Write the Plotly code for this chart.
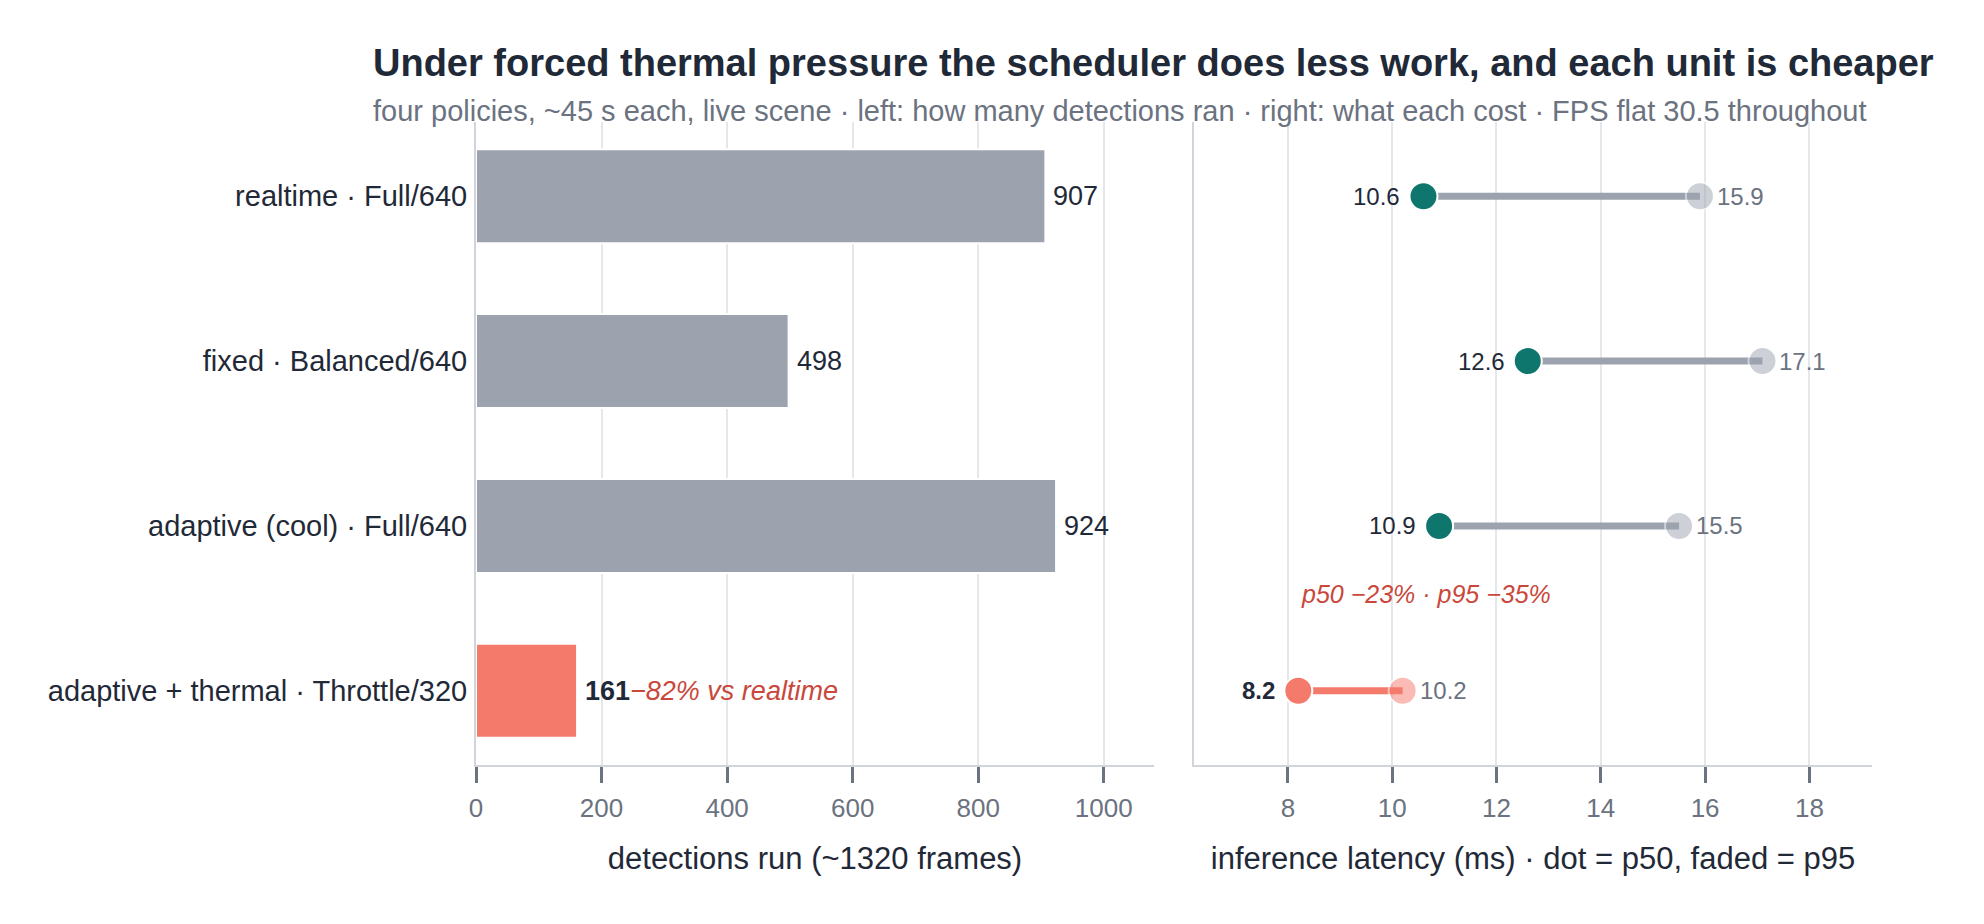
import plotly.graph_objects as go

# ---- data ----
policies = ["realtime · Full/640", "fixed · Balanced/640", "adaptive (cool) · Full/640", "adaptive + thermal · Throttle/320"]
detections = [907, 498, 924, 161]
p50_ms = [10.6, 12.6, 10.9, 8.2]
p95_ms = [15.9, 17.1, 15.5, 10.2]
x1_ticks = [0, 200, 400, 600, 800, 1000]
x2_ticks = [8, 10, 12, 14, 16, 18]
bar_note = "−82% vs realtime"
latency_note = "p50 −23% · p95 −35%"

GREY = "#9ca3af"
CORAL = "#f47a6b"
TEAL = "#0f766e"
DARK = "#1f2937"
MUTED = "#6b7280"
RED_TXT = "#c9483b"
FONT = "Liberation Sans, Arial, sans-serif"

n = len(policies)
ypos = [n - 1 - i for i in range(n)]  # first category at top
is_hot = [i == n - 1 for i in range(n)]

# figure geometry (page body has an 8px margin -> figure is 1968x908)
W, H = 1968, 908
L, R, T, B = 468, 104, 114, 151
pw, ph = W - L - R, H - T - B


def px_x(x):
    return (x - L) / pw


def px_y(y):
    return (H - B - y) / ph


fig = go.Figure()

# bars
fig.add_trace(go.Bar(
    x=detections, y=ypos, orientation="h", width=0.57,
    marker=dict(color=[CORAL if h else GREY for h in is_hot], line=dict(color="white", width=2)),
    xaxis="x", yaxis="y", showlegend=False, hoverinfo="skip",
))

# dumbbell connecting lines
for i in range(n):
    fig.add_trace(go.Scatter(
        x=[p50_ms[i], p95_ms[i]], y=[ypos[i], ypos[i]], mode="lines",
        line=dict(color=CORAL if is_hot[i] else GREY, width=7),
        xaxis="x2", yaxis="y2", showlegend=False, hoverinfo="skip",
    ))

# p95 faded dots
fig.add_trace(go.Scatter(
    x=p95_ms, y=ypos, mode="markers",
    marker=dict(size=28, color=[CORAL if h else GREY for h in is_hot], opacity=0.5,
                line=dict(color="white", width=2)),
    xaxis="x2", yaxis="y2", showlegend=False, hoverinfo="skip",
))
# p50 dots
fig.add_trace(go.Scatter(
    x=p50_ms, y=ypos, mode="markers",
    marker=dict(size=28, color=[CORAL if h else TEAL for h in is_hot],
                line=dict(color="white", width=2)),
    xaxis="x2", yaxis="y2", showlegend=False, hoverinfo="skip",
))

ann = []
# bar value labels
for i in range(n):
    if is_hot[i]:
        txt = f"<b>{detections[i]}</b><span style='color:{RED_TXT}'><i>{bar_note}</i></span>"
    else:
        txt = str(detections[i])
    ann.append(dict(x=detections[i], y=ypos[i], xref="x", yref="y", text=txt, showarrow=False,
                    xanchor="left", yanchor="middle", xshift=6,
                    font=dict(size=27, color=DARK, family=FONT)))
# latency labels
for i in range(n):
    t50 = f"<b>{p50_ms[i]}</b>" if is_hot[i] else f"{p50_ms[i]}"
    ann.append(dict(x=p50_ms[i], y=ypos[i], xref="x2", yref="y2", text=t50, showarrow=False,
                    xanchor="right", yanchor="middle", xshift=-21,
                    font=dict(size=24, color=DARK, family=FONT)))
    ann.append(dict(x=p95_ms[i], y=ypos[i], xref="x2", yref="y2", text=f"{p95_ms[i]}", showarrow=False,
                    xanchor="left", yanchor="middle", xshift=15,
                    font=dict(size=24, color=MUTED, family=FONT)))
# delta annotation
ann.append(dict(x=10.65, y=0.585, xref="x2", yref="y2", text=f"<i>{latency_note}</i>",
                showarrow=False, xanchor="center", yanchor="middle",
                font=dict(size=25, color=RED_TXT, family=FONT)))

# title + subtitle
ann.append(dict(x=px_x(363), y=px_y(55), xref="paper", yref="paper",
                text="<b>Under forced thermal pressure the scheduler does less work, and each unit is cheaper</b>",
                showarrow=False, xanchor="left", yanchor="middle",
                font=dict(size=38, color=DARK, family=FONT)))
ann.append(dict(x=px_x(363), y=px_y(103), xref="paper", yref="paper",
                text="four policies, ~45 s each, live scene · left: how many detections ran · right: what each cost · FPS flat 30.5 throughout",
                showarrow=False, xanchor="left", yanchor="middle",
                font=dict(size=29, color=MUTED, family=FONT)))

split_l = (1146 - L) / pw
split_r = (1186 - L) / pw

axis_common = dict(
    showgrid=True, gridcolor="#e5e7eb", gridwidth=1.5,
    showline=True, linecolor="#d1d5db", linewidth=2,
    ticks="outside", ticklen=16, tickwidth=2.5, tickcolor="#6b7280",
    tickfont=dict(size=26, color=MUTED, family=FONT),
    ticklabelstandoff=3,
    zeroline=False,
)

fig.update_layout(
    paper_bgcolor="white", plot_bgcolor="white",
    margin=dict(l=L, r=R, t=T, b=B),
    font=dict(family=FONT, color=DARK),
    xaxis=dict(domain=[0, split_l], range=[0, 1080], tickvals=x1_ticks, anchor="y",
               title=dict(text="detections run (~1320 frames)", font=dict(size=31, color=DARK, family=FONT), standoff=25),
               **axis_common),
    xaxis2=dict(domain=[split_r, 1], range=[6.2, 19.2], tickvals=x2_ticks, anchor="y2",
                title=dict(text="inference latency (ms) · dot = p50, faded = p95", font=dict(size=31, color=DARK, family=FONT), standoff=25),
                **axis_common),
    yaxis=dict(range=[-0.45, 3.45], tickvals=ypos, ticktext=policies, showgrid=False, zeroline=False,
               showline=True, linecolor="#d1d5db", linewidth=2, ticks="", ticklabelstandoff=1,
               tickfont=dict(size=29, color=DARK, family=FONT), anchor="x"),
    yaxis2=dict(range=[-0.45, 3.45], showticklabels=False, showgrid=False, zeroline=False,
                showline=True, linecolor="#d1d5db", linewidth=2, ticks="", anchor="x2", matches="y"),
    annotations=ann,
)

fig.write_html("out.html")
